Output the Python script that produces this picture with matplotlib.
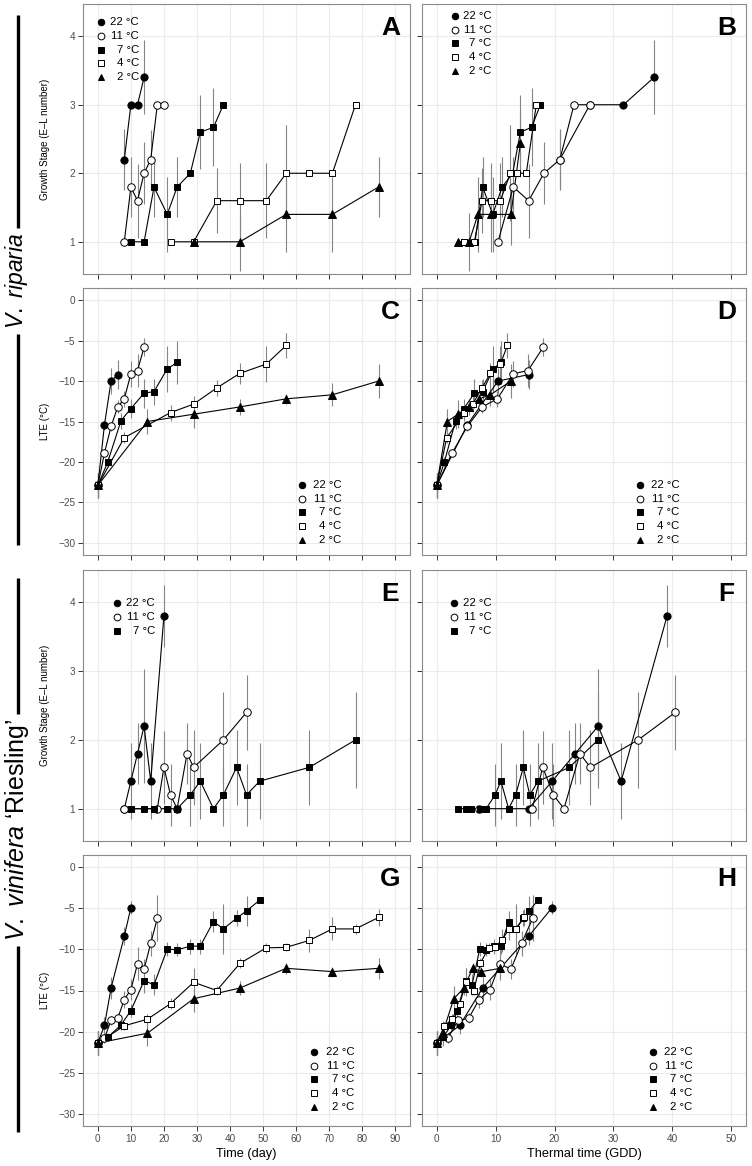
import numpy as np
import matplotlib
matplotlib.use('Agg')
import matplotlib.pyplot as plt
from matplotlib.lines import Line2D

plt.rcParams['font.family'] = ['Liberation Sans', 'DejaVu Sans']
plt.rcParams['mathtext.fontset'] = 'custom'
plt.rcParams['mathtext.it'] = 'Liberation Sans:italic'
plt.rcParams['mathtext.rm'] = 'Liberation Sans'

temps = [22, 11, 7, 4, 2]
temp_labels = ['22 °C', '11 °C', '7 °C', '4 °C', '2 °C']

# ---- V. riparia, growth stage (panels A, B)
rip_gs_day = {22: [8, 10, 12, 14],
              11: [8, 10, 12, 14, 16, 18, 20],
              7: [10, 14, 17, 21, 24, 28, 31, 35, 38],
              4: [22, 29, 36, 43, 51, 57, 64, 71, 78],
              2: [29, 43, 57, 71, 85]}
rip_gs_val = {22: [2.2, 3.0, 3.0, 3.4],
              11: [1.0, 1.8, 1.6, 2.0, 2.2, 3.0, 3.0],
              7: [1.0, 1.0, 1.8, 1.4, 1.8, 2.0, 2.6, 2.67, 3.0],
              4: [1.0, 1.0, 1.6, 1.6, 1.6, 2.0, 2.0, 2.0, 3.0],
              2: [1.0, 1.0, 1.4, 1.4, 1.8]}
rip_gs_err = {22: [0.45, 0, 0, 0.54],
              11: [0, 0.44, 0.54, 0.45, 0.43, 0, 0],
              7: [0, 0, 0.44, 0.55, 0.44, 0, 0.54, 0.57, 0],
              4: [0, 0, 0.47, 0.55, 0.55, 0.7, 0, 0, 0],
              2: [0, 0.42, 0.55, 0.55, 0.44]}
rip_gs_gdd = {22: [20.9, 26.0, 31.7, 36.9],
              11: [10.4, 13.0, 15.6, 18.2, 20.9, 23.3, 26.0],
              7: [4.6, 6.5, 7.8, 9.5, 11.1, 12.9, 14.2, 16.1, 17.6],
              4: [4.6, 6.4, 7.7, 9.2, 10.8, 12.5, 13.6, 15.2, 16.9],
              2: [3.6, 5.5, 7.0, 9.2, 12.6, 14.2]}
rip_gs_val_b = {22: [2.2, 3.0, 3.0, 3.4],
                11: [1.0, 1.8, 1.6, 2.0, 2.2, 3.0, 3.0],
                7: [1.0, 1.0, 1.8, 1.4, 1.8, 2.0, 2.6, 2.67, 3.0],
                4: [1.0, 1.0, 1.6, 1.6, 1.6, 2.0, 2.0, 2.0, 3.0],
                2: [1.0, 1.0, 1.4, 1.4, 1.4, 2.44]}
rip_gs_err_b = {22: [0.45, 0, 0, 0.54],
                11: [0, 0.44, 0.54, 0.45, 0.43, 0, 0],
                7: [0, 0, 0.44, 0.55, 0.44, 0, 0.54, 0.57, 0],
                4: [0, 0, 0.47, 0.55, 0.55, 0.7, 0, 0, 0],
                2: [0, 0.42, 0.55, 0.55, 0.44, 0.5]}

# ---- V. riparia, LTE (panels C, D)
rip_lte_day = {22: [0, 2, 4, 6],
               11: [0, 2, 4, 6, 8, 10, 12, 14],
               7: [0, 3, 7, 10, 14, 17, 21, 24],
               4: [0, 8, 22, 29, 36, 43, 51, 57],
               2: [0, 15, 29, 43, 57, 71, 85]}
rip_lte_val = {22: [-22.9, -15.4, -10.0, -9.2],
               11: [-22.9, -18.9, -15.6, -13.2, -12.2, -9.1, -8.7, -5.8],
               7: [-22.9, -20.0, -14.9, -13.4, -11.5, -11.3, -8.5, -7.7],
               4: [-22.9, -17.0, -13.9, -12.85, -10.85, -9.05, -7.9, -5.6],
               2: [-22.9, -15.0, -14.1, -13.2, -12.2, -11.7, -10.0]}
rip_lte_err = {22: [1.5, 0.5, 1.6, 1.8],
               11: [1.5, 0.5, 0.6, 0.8, 1.0, 1.6, 2.0, 1.1],
               7: [1.5, 0.6, 1.0, 1.2, 1.8, 1.6, 2.8, 2.7],
               4: [1.5, 0.7, 1.0, 1.0, 1.0, 1.3, 2.2, 1.5],
               2: [1.5, 1.6, 1.7, 1.0, 0.6, 1.4, 2.1]}
rip_lte_gdd = {22: [0, 5.2, 10.4, 15.6],
               11: [0, 2.6, 5.2, 7.7, 10.3, 13.0, 15.5, 18.1],
               7: [0, 1.3, 3.2, 4.6, 6.4, 7.8, 9.6, 10.9],
               4: [0, 1.7, 4.7, 6.1, 7.7, 9.1, 10.8, 12.0],
               2: [0, 1.8, 3.6, 5.4, 7.2, 9.1, 12.6]}

# ---- V. vinifera 'Riesling', growth stage (panels E, F)
ries_gs_day = {22: [8, 10, 12, 14, 16, 20],
               11: [8, 18, 20, 22, 24, 27, 29, 38, 45],
               7: [10, 14, 17, 21, 24, 28, 31, 35, 38, 42, 45, 49, 64, 78]}
ries_gs_val = {22: [1.0, 1.4, 1.8, 2.2, 1.4, 3.8],
               11: [1.0, 1.0, 1.6, 1.2, 1.0, 1.8, 1.6, 2.0, 2.4],
               7: [1.0, 1.0, 1.0, 1.0, 1.0, 1.2, 1.4, 1.0, 1.2, 1.6, 1.2, 1.4, 1.6, 2.0]}
ries_gs_err = {22: [0, 0.55, 0.44, 0.83, 0.55, 0.45],
               11: [0, 0, 0.53, 0.45, 0, 0.44, 0.55, 0.7, 0.55],
               7: [0, 0, 0, 0, 0, 0.45, 0.55, 0, 0.45, 0.55, 0.45, 0.55, 0.55, 0.7]}
ries_gs_gdd = {22: [15.6, 19.6, 23.5, 27.4, 31.3, 39.1],
               11: [7.2, 16.2, 18.0, 19.8, 21.6, 24.3, 26.1, 34.2, 40.5],
               7: [3.6, 5.0, 5.9, 7.3, 8.4, 9.9, 10.9, 12.2, 13.4, 14.7, 15.8, 17.2, 22.5, 27.4]}

# ---- V. vinifera 'Riesling', LTE (panels G, H)
ries_lte_day = {22: [0, 2, 4, 8, 10],
                11: [0, 2, 4, 6, 8, 10, 12, 14, 16, 18],
                7: [0, 3, 7, 10, 14, 17, 21, 24, 28, 31, 35, 38, 42, 45, 49],
                4: [0, 8, 15, 22, 29, 36, 43, 51, 57, 64, 71, 78, 85],
                2: [0, 15, 29, 43, 57, 71, 85]}
ries_lte_val = {22: [-21.4, -19.25, -14.7, -8.4, -4.9],
                11: [-21.4, -20.8, -18.65, -18.4, -16.1, -14.9, -11.75, -12.4, -9.25, -6.2],
                7: [-21.4, -20.7, -19.2, -17.45, -13.8, -14.3, -9.95, -10.05, -9.6, -9.6,
                    -6.6, -7.5, -6.2, -5.3, -4.0],
                4: [-21.4, -19.3, -18.5, -16.6, -14.0, -15.0, -11.7, -9.8, -9.75, -8.9,
                    -7.5, -7.5, -6.1],
                2: [-21.4, -20.2, -16.0, -14.7, -12.3, -12.7, -12.3]}
ries_lte_err = {22: [1.5, 1.0, 1.3, 1.1, 0.8],
                11: [1.5, 0.6, 0.6, 0.6, 1.0, 1.3, 2.0, 1.2, 1.5, 2.8],
                7: [1.5, 0.5, 0.6, 0.8, 1.5, 1.3, 0.8, 0.8, 0.9, 0.9, 1.3, 3.0, 1.0, 1.8, 0.3],
                4: [1.5, 0.5, 0.6, 0.7, 1.7, 0.5, 0.6, 0.6, 0.5, 1.4, 1.4, 0.6, 1.0],
                2: [1.5, 1.5, 1.6, 0.9, 0.7, 0.6, 1.3]}
ries_lte_gdd = {22: [0, 3.9, 7.8, 15.6, 19.6],
                11: [0, 1.9, 3.6, 5.4, 7.2, 9.05, 10.7, 12.6, 14.4, 16.3],
                7: [0, 1.05, 2.5, 3.5, 4.9, 6.0, 7.3, 8.4, 9.8, 10.9, 12.2, 13.4, 14.7, 15.7, 17.2],
                4: [0, 1.3, 2.6, 3.9, 5.0, 6.3, 7.4, 8.8, 9.9, 11.0, 12.3, 13.5, 14.8],
                2: [0, 1.0, 2.9, 4.6, 6.1, 7.6, 10.8]}

marker_style = {22: dict(marker='o', mfc='black', ms=5.2),
                11: dict(marker='o', mfc='white', ms=5.4),
                7: dict(marker='s', mfc='black', ms=4.7),
                4: dict(marker='s', mfc='white', ms=4.7),
                2: dict(marker='^', mfc='black', ms=5.4)}

W, H = 752, 1166
cols = [(83, 410), (422, 746)]
rows = [(4, 274), (288, 555), (570, 841), (855, 1126)]


def rect(x0, y0, x1, y1):
    return [x0 / W, 1 - y1 / H, (x1 - x0) / W, (y1 - y0) / H]


def setup(ax, kind, col, bottom):
    if col == 0:
        ax.set_xlim(-4.5, 94.5)
        ax.set_xticks(range(0, 91, 10))
    else:
        ax.set_xlim(-2.5, 52.5)
        ax.set_xticks(range(0, 51, 10))
    if kind == 'gs':
        ax.set_ylim(0.53, 4.47)
        ax.set_yticks([1, 2, 3, 4])
    else:
        ax.set_ylim(-31.5, 1.5)
        ax.set_yticks(range(-30, 1, 5))
    ax.grid(True, color='#ebebeb', lw=0.8, zorder=0)
    ax.set_axisbelow(True)
    for s in ax.spines.values():
        s.set_color('#8a8a8a')
        s.set_linewidth(0.8)
    ax.tick_params(direction='out', length=3.5, width=0.7, color='#333333',
                   labelsize=7.2, labelcolor='#4d4d4d', pad=2)
    if not bottom:
        ax.tick_params(labelbottom=False)
    if col == 1:
        ax.tick_params(labelleft=False)


def draw(ax, xs, ys, es, tlist):
    for t in tlist:
        x, y, e = np.array(xs[t]), np.array(ys[t]), np.array(es[t])
        m = e > 0
        ax.vlines(x[m], (y - e)[m], (y + e)[m], color='#858585', lw=0.8, zorder=2)
        ax.plot(x, y, color='black', lw=0.8, zorder=3)
    for t in tlist:
        ax.plot(xs[t], ys[t], ls='none', mec='black', mew=0.7, zorder=4, **marker_style[t])


def legend(ax, tlist, mx, tx, y0, dy=0.051):
    for i, t in enumerate(tlist):
        yy = y0 - i * dy
        st = dict(marker_style[t])
        st['ms'] = st['ms'] * 0.9
        ax.plot([mx], [yy], transform=ax.transAxes, ls='none', mec='black', mew=0.7,
                clip_on=False, zorder=5, **st)
        ax.text(tx, yy, temp_labels[temps.index(t)], transform=ax.transAxes,
                ha='right', va='center', fontsize=8.2, color='black')


fig = plt.figure(figsize=(W / 100, H / 100), dpi=100)

panels = [
    ('A', 0, 0, 'gs', rip_gs_day, rip_gs_val, rip_gs_err, temps, (0.054, 0.171, 0.933)),
    ('B', 0, 1, 'gs', rip_gs_gdd, rip_gs_val_b, rip_gs_err_b, temps, (0.102, 0.215, 0.956)),
    ('C', 1, 0, 'lte', rip_lte_day, rip_lte_val, rip_lte_err, temps, (0.671, 0.791, 0.262)),
    ('D', 1, 1, 'lte', rip_lte_gdd, rip_lte_val, rip_lte_err, temps, (0.673, 0.794, 0.262)),
    ('E', 2, 0, 'gs', ries_gs_day, ries_gs_val, ries_gs_err, [22, 11, 7], (0.103, 0.22, 0.877)),
    ('F', 2, 1, 'gs', ries_gs_gdd, ries_gs_val, ries_gs_err, [22, 11, 7], (0.10, 0.215, 0.877)),
    ('G', 3, 0, 'lte', ries_lte_day, ries_lte_val, ries_lte_err, temps, (0.706, 0.83, 0.274)),
    ('H', 3, 1, 'lte', ries_lte_gdd, ries_lte_val, ries_lte_err, temps, (0.714, 0.835, 0.274)),
]

for letter, r, c, kind, xs, ys, es, tl, lg in panels:
    x0, x1 = cols[c]
    y0, y1 = rows[r]
    ax = fig.add_axes(rect(x0, y0, x1, y1))
    setup(ax, kind, c, r == 3)
    draw(ax, xs, ys, es, tl)
    legend(ax, tl, *lg)
    ax.text(0.94, 0.91, letter, transform=ax.transAxes, ha='center', va='center',
            fontsize=19, fontweight='bold')

# y-axis titles
for r, kind in enumerate(['gs', 'lte', 'gs', 'lte']):
    yc = (rows[r][0] + rows[r][1]) / 2
    label = 'Growth Stage (E\u2013L number)' if kind == 'gs' else 'LTE (°C)'
    fig.text(45 / W, 1 - yc / H, label, rotation=90, ha='center', va='center', fontsize=7)

# x-axis titles
fig.text((83 + 410) / 2 / W, 1 - 1154 / H, 'Time (day)', ha='center', va='center', fontsize=9.2)
fig.text((422 + 746) / 2 / W, 1 - 1154 / H, 'Thermal time (GDD)', ha='center', va='center', fontsize=9.2)

# species labels, with a bar above and below each
species = [(r'$\mathit{V.\ riparia}$', 281, 16.5, 15, 545),
           (r'$\mathit{V.\ vinifera}$ ‘Riesling’', 830, 18, 578, 1132)]
fig.canvas.draw()
renderer = fig.canvas.get_renderer()
for txt, yc, fs, top, bot in species:
    t = fig.text(17 / W, 1 - yc / H, txt, rotation=90, ha='center', va='center', fontsize=fs)
    bb = t.get_window_extent(renderer)
    t_top = H - bb.y1 - 5
    t_bot = H - bb.y0 + 5
    for ya, yb in [(top, t_top), (t_bot, bot)]:
        fig.add_artist(Line2D([18 / W, 18 / W], [1 - ya / H, 1 - yb / H],
                              transform=fig.transFigure, color='black', lw=2.4,
                              solid_capstyle='butt'))

fig.savefig('out.png', dpi=100)
